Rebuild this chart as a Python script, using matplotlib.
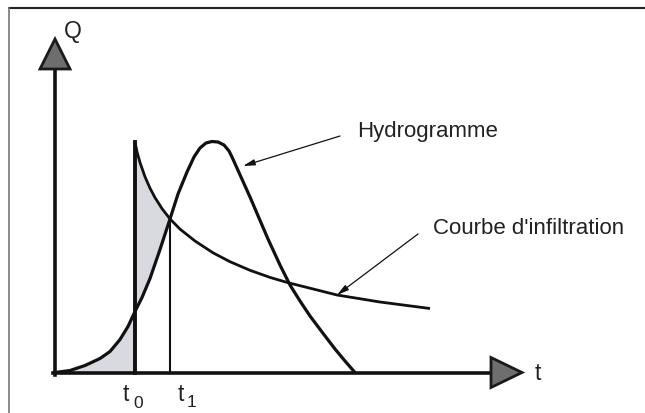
import numpy as np
import matplotlib
matplotlib.use('Agg')
import matplotlib.pyplot as plt
from matplotlib.patches import Polygon
from matplotlib.lines import Line2D

plt.rcParams['font.family'] = ['Liberation Sans', 'DejaVu Sans']

# hydrograph (schematic units)
hydro_t = [0.0, 0.75, 1.5, 2.25, 2.75, 3.25, 3.65, 4.0, 4.35, 4.75, 5.25, 5.75,
           6.15, 6.6, 6.95, 7.25, 7.55, 7.85, 8.15, 8.45, 8.7, 8.85, 9.75, 10.65,
           11.25, 11.75, 12.25, 12.75, 13.35, 14.0, 14.5, 15.0]
hydro_q = [0.0, 0.1, 0.35, 0.7, 1.05, 1.65, 2.3, 3.05, 3.75, 4.7, 6.15, 7.675,
           8.925, 10.025, 10.775, 11.225, 11.475, 11.55, 11.525, 11.375, 11.075,
           10.775, 8.775, 6.675, 5.375, 4.375, 3.575, 2.825, 2.025, 1.175, 0.575,
           0.0]

# infiltration curve, starts at t0
infil_t = [4.0, 4.1, 4.25, 4.5, 4.75, 5.0, 5.35, 5.75, 6.25, 7.0, 7.9, 8.75,
           9.75, 10.75, 11.65, 12.75, 14.1, 16.25, 18.75]
infil_q = [11.525, 11.04, 10.5, 9.785, 9.215, 8.745, 8.195, 7.68, 7.17, 6.575,
           5.985, 5.54, 5.11, 4.755, 4.49, 4.215, 3.875, 3.525, 3.2]

t0 = 4.0
t1 = 5.75

fig = plt.figure(figsize=(6.45, 4.14), dpi=100)
ax = fig.add_axes([0, 0, 1, 1])
ax.set_xlim(-2.75, 29.5)
ax.set_ylim(-2.025, 18.675)
ax.axis('off')

# frame (only top and left visible)
fig.add_artist(Line2D([9 / 645, 1], [1 - 9 / 414] * 2, color='#222222', lw=1.5))
fig.add_artist(Line2D([9 / 645] * 2, [0, 1 - 9 / 414], color='#777777', lw=1.2))

# shaded area
tt = np.linspace(0, t1, 300)
h = np.interp(tt, hydro_t, hydro_q)
f = np.interp(tt, infil_t, infil_q)
lower = np.where(tt < t0, 0, h)
upper = np.where(tt < t0, h, f)
ax.fill_between(tt, lower, upper, color='#d9dadf', lw=0, zorder=1)

ink = '#111111'
ax.plot(hydro_t, hydro_q, color=ink, lw=2.3, solid_capstyle='butt',
        solid_joinstyle='round', zorder=3)
ax.plot(infil_t, infil_q, color=ink, lw=2.0, solid_capstyle='butt',
        solid_joinstyle='round', zorder=3)
ax.plot([t0, t0], [0, infil_q[0]], color=ink, lw=2.8, zorder=3)
ax.plot([t1, t1], [0, np.interp(t1, infil_t, infil_q)], color=ink, lw=1.5, zorder=3)

# axes with triangle heads
ax.plot([0, 0], [-0.1, 15.2], color=ink, lw=2.6, zorder=4)
ax.plot([-0.1, 21.8], [0, 0], color=ink, lw=2.6, zorder=4)
ax.add_patch(Polygon([[-0.75, 15.175], [0.75, 15.175], [0, 16.675]], closed=True,
                     fc='#6e6e6e', ec='#1a1a1a', lw=2, joinstyle='miter', zorder=5))
ax.add_patch(Polygon([[21.8, -0.75], [21.8, 0.75], [23.35, 0]], closed=True,
                     fc='#6e6e6e', ec='#1a1a1a', lw=2, joinstyle='miter', zorder=5))

txt = '#222222'
ax.text(0.45, 17.1, 'Q', fontsize=16.5, color=txt, ha='left', va='center')
ax.text(24.0, 0.0, 't', fontsize=16.5, color=txt, ha='left', va='center')
ax.text(3.4, -1.05, 't', fontsize=16.5, color=txt, ha='left', va='center')
ax.text(3.9, -1.5, '0', fontsize=12.5, color=txt, ha='left', va='center')
ax.text(6.15, -1.05, 't', fontsize=16.5, color=txt, ha='left', va='center')
ax.text(6.6, -1.45, '1', fontsize=12.5, color=txt, ha='left', va='center')

arrow = dict(arrowstyle='-|>,head_length=0.7,head_width=0.18', color=ink, lw=0.9,
             shrinkA=0, shrinkB=0)
ax.annotate('', xy=(9.4, 10.325), xytext=(14.25, 11.825), arrowprops=arrow)
ax.annotate('', xy=(14.1, 3.875), xytext=(18.15, 6.925), arrowprops=arrow)
ax.text(15.1, 12.075, 'Hydrogramme', fontsize=16, color=txt, ha='left', va='center')
ax.text(18.9, 7.225, "Courbe d'infiltration", fontsize=16, color=txt,
        ha='left', va='center')

fig.savefig('out.png', dpi=100)
